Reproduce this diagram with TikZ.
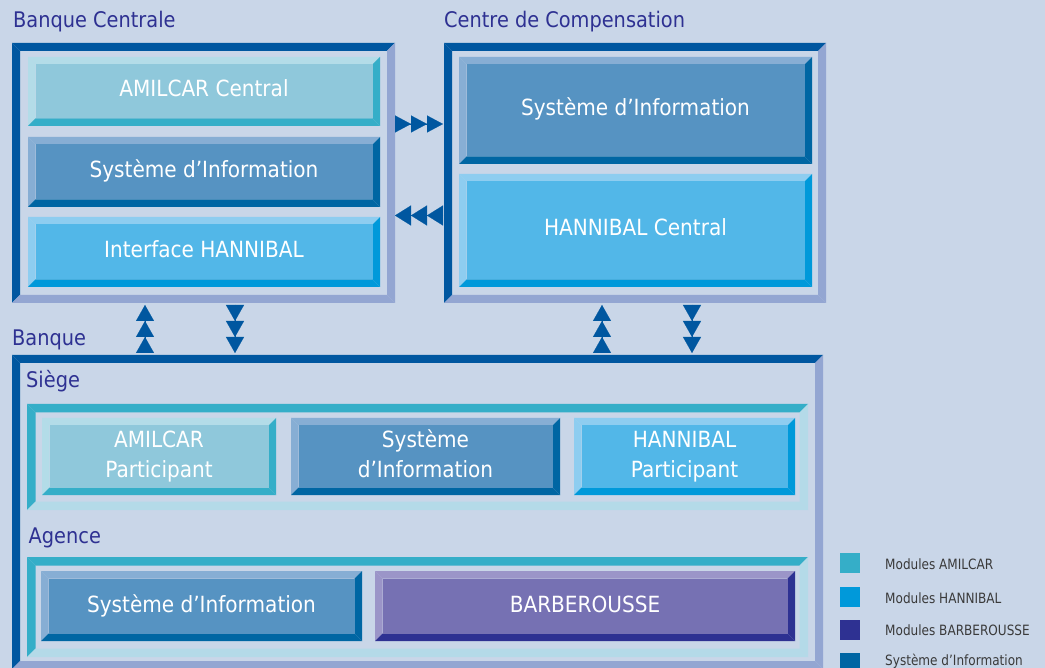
\documentclass[tikz,border=0pt]{standalone}
\usepackage{fontspec}
\setmainfont{DejaVu Sans}[FakeStretch=0.9]
\newfontfamily\legfont{DejaVu Sans}[FakeStretch=0.85]
\usetikzlibrary{arrows.meta}
\definecolor{bg}{HTML}{C9D6E8}
\definecolor{frdark}{HTML}{0057A0}
\definecolor{frlight}{HTML}{93A6D2}
\definecolor{titlec}{HTML}{2E3192}
\definecolor{grL}{HTML}{B4DAE8}
\definecolor{amL}{HTML}{B3DCE8}\definecolor{amF}{HTML}{8FC8DB}\definecolor{amD}{HTML}{35AEC8}
\definecolor{siL}{HTML}{87AED4}\definecolor{siF}{HTML}{5693C2}\definecolor{siD}{HTML}{0066A3}
\definecolor{haL}{HTML}{8ECDF0}\definecolor{haF}{HTML}{52B7E8}\definecolor{haD}{HTML}{0099DA}
\definecolor{baL}{HTML}{9B95C8}\definecolor{baF}{HTML}{7671B3}\definecolor{baD}{HTML}{2E3192}
\definecolor{legtext}{HTML}{3A3A3A}
% bevelled frame: x1 y1 x2 y2 thickness colourTopLeft colourBottomRight
\newcommand\bev[7]{%
  \fill[#6] (#1,#2) -- (#3,#2) -- (#3-#5,#2+#5) -- (#1+#5,#2+#5) -- cycle;
  \fill[#6] (#1,#2) -- (#1+#5,#2+#5) -- (#1+#5,#4-#5) -- (#1,#4) -- cycle;
  \fill[#7] (#1,#4) -- (#1+#5,#4-#5) -- (#3-#5,#4-#5) -- (#3,#4) -- cycle;
  \fill[#7] (#3,#2) -- (#3,#4) -- (#3-#5,#4-#5) -- (#3-#5,#2+#5) -- cycle;}
% module: name x1 y1 x2 y2 palette
\newcommand\modbox[6]{%
  \bev{#2}{#3}{#4}{#5}{7.5}{#6L}{#6D}
  \node[inner sep=0pt, outer sep=0pt, fill=#6F, minimum width={(#4-#2-15)*1pt},
        minimum height={(#5-#3-15)*1pt}] (#1) at ({(#2+#4)/2},{(#3+#5)/2}) {};}
\begin{document}
\begin{tikzpicture}[x=1pt,y=-1pt,
  title/.style={anchor=base west, inner sep=0pt, text=titlec, font=\fontsize{21.5}{26}\selectfont},
  modtext/.style={anchor=base, inner sep=0pt, text=white, font=\fontsize{22.3}{31}\selectfont},
  legsq/.style={inner sep=0pt, minimum width=20pt, minimum height=20pt},
  legtxt/.style={anchor=base west, inner sep=0pt, text=legtext, font=\legfont\fontsize{14.2}{17}\selectfont},
  triR/.style={-{Triangle[length=16pt,width=17pt] Triangle[length=16pt,width=17pt] Triangle[length=16pt,width=17pt]}, draw=frdark, fill=frdark, line width=0.1pt},
  triL/.style={-{Triangle[length=16pt,width=20pt] Triangle[length=16pt,width=20pt] Triangle[length=16pt,width=20pt]}, draw=frdark, fill=frdark, line width=0.1pt},
  triV/.style={-{Triangle[length=16pt,width=18pt] Triangle[length=16pt,width=18pt] Triangle[length=16pt,width=18pt]}, draw=frdark, fill=frdark, line width=0.1pt}]
\useasboundingbox (0,0) rectangle (1045,668);
\fill[bg] (0,0) rectangle (1045,668);

% ---------- Banque Centrale ----------
\node[title] (tbc) at (13,28) {Banque Centrale};
\bev{12}{43}{395}{303}{8}{frdark}{frlight}
\modbox{bcam}{28}{57}{380}{126}{am}
\modbox{bcsi}{28}{137}{380}{207}{si}
\modbox{bcha}{28}{217}{380}{287}{ha}
\node[modtext] (tbcam) at (204,97) {AMILCAR Central};
\node[modtext] (tbcsi) at (204,178) {Système d’Information};
\node[modtext] (tbcha) at (204,258) {Interface HANNIBAL};

% ---------- Centre de Compensation ----------
\node[title] (tcc) at (444,28) {Centre de Compensation};
\bev{444}{43}{826}{303}{8}{frdark}{frlight}
\modbox{ccsi}{459}{57}{812}{164}{si}
\modbox{ccha}{459}{174}{812}{287}{ha}
\node[modtext] (tccsi) at (635.5,116) {Système d’Information};
\node[modtext] (tccha) at (635.5,236) {HANNIBAL Central};

% ---------- Banque ----------
\node[title] (tbq) at (12,346) {Banque};
\bev{12}{355}{823}{669}{8}{frdark}{frlight}
\node[title] (tsg) at (26,388) {Siège};
\bev{27}{404}{808}{510}{8.5}{amD}{grL}
\modbox{sgam}{42}{418}{276}{495}{am}
\modbox{sgsi}{291}{418}{560}{495}{si}
\modbox{sgha}{574}{418}{795}{495}{ha}
\node[modtext] (tsgam) at (159,447) {\begin{tabular}[t]{@{}c@{}}AMILCAR\\Participant\end{tabular}};
\node[modtext] (tsgsi) at (425.5,447) {\begin{tabular}[t]{@{}c@{}}Système\\d’Information\end{tabular}};
\node[modtext] (tsgha) at (684.5,447) {\begin{tabular}[t]{@{}c@{}}HANNIBAL\\Participant\end{tabular}};
\node[title] (tag) at (28.5,543) {Agence};
\bev{27}{557}{808}{657}{8.5}{amD}{grL}
\modbox{agsi}{41}{571}{362}{641}{si}
\modbox{agba}{375}{571}{795}{641}{ba}
\node[modtext] (tagsi) at (201.5,612) {Système d’Information};
\node[modtext] (tagba) at (585,612) {BARBEROUSSE};

% ---------- connectors ----------
\coordinate (r1) at (395,124); \coordinate (r2) at (443,124);
\coordinate (l1) at (443,215.5); \coordinate (l2) at (395,215.5);
\coordinate (u1) at (145,353); \coordinate (u2) at (145,305);
\coordinate (d1) at (235,305); \coordinate (d2) at (235,353);
\coordinate (u3) at (602,353); \coordinate (u4) at (602,305);
\coordinate (d3) at (692,305); \coordinate (d4) at (692,353);
\draw[triR] (r1) -- (r2);
\draw[triL] (l1) -- (l2);
\draw[triV] (u1) -- (u2);
\draw[triV] (d1) -- (d2);
\draw[triV] (u3) -- (u4);
\draw[triV] (d3) -- (d4);

% ---------- legend ----------
\node[legsq, fill=amD] (lg1) at (850,563) {};
\node[legsq, fill=haD] (lg2) at (850,597) {};
\node[legsq, fill=baD] (lg3) at (850,630) {};
\node[legsq, fill=siD] (lg4) at (850,663) {};
\node[legtxt] (lt1) at (885,569) {Modules AMILCAR};
\node[legtxt] (lt2) at (885,603) {Modules HANNIBAL};
\node[legtxt] (lt3) at (885,635) {Modules BARBEROUSSE};
\node[legtxt] (lt4) at (885,665) {Système d’Information};
\end{tikzpicture}
\end{document}
